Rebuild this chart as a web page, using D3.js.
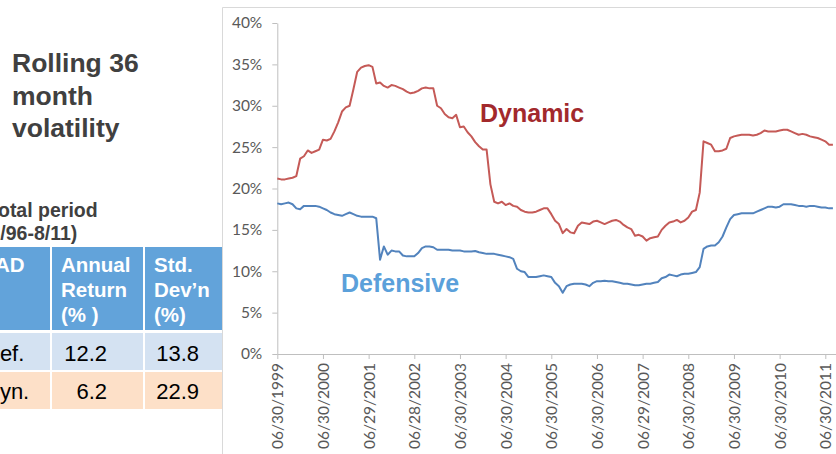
<!DOCTYPE html>
<html>
<head>
<meta charset="utf-8">
<script src="https://cdn.jsdelivr.net/npm/d3@7"></script>
<style>
  html, body { margin: 0; padding: 0; background: #ffffff; }
  svg { display: block; }
</style>
</head>
<body>
<svg id="chart" width="836" height="454"></svg>
<script>
// Rolling 36-month volatility, monthly from June 1999 to August 2011
const tickLabels = ["06/30/1999", "06/30/2000", "06/29/2001", "06/28/2002", "06/30/2003",
  "06/30/2004", "06/30/2005", "06/30/2006", "06/29/2007", "06/30/2008",
  "06/30/2009", "06/30/2010", "06/30/2011"];

const dynamic = [
  21.2, 21.1, 21.1, 21.2, 21.3, 21.5, 23.6, 23.9, 24.6, 24.3, 24.5, 24.7,
  25.9, 25.8, 26.0, 26.9, 28.0, 29.3, 29.8, 30.0, 32.0, 34.1, 34.6, 34.8,
  34.9, 34.7, 32.7, 32.8, 32.4, 32.2, 32.5, 32.4, 32.2, 32.0, 31.7, 31.5,
  31.6, 31.8, 32.1, 32.2, 32.1, 32.1, 30.0, 29.7, 29.0, 28.6, 28.5, 28.9,
  27.4, 27.5, 26.8, 26.3, 25.6, 25.1, 24.7, 24.7, 20.5, 18.4, 18.2, 18.4,
  18.0, 18.2, 17.9, 17.8, 17.4, 17.2, 17.1, 17.1, 17.2, 17.4, 17.6, 17.6,
  16.9, 16.1, 15.7, 14.6, 15.1, 14.7, 14.6, 15.5, 15.9, 15.8, 15.7, 16.0,
  16.1, 15.9, 15.7, 15.9, 16.1, 16.2, 16.0, 15.6, 15.3, 15.1, 14.3, 14.4,
  14.2, 13.7, 14.0, 14.1, 14.2, 15.0, 15.5, 15.9, 16.0, 16.2, 15.9, 16.1,
  16.5, 17.2, 17.4, 19.5, 25.7, 25.5, 25.3, 24.5, 24.5, 24.6, 24.8, 26.1,
  26.3, 26.4, 26.5, 26.5, 26.5, 26.4, 26.5, 26.7, 27.0, 26.9, 26.9, 26.9,
  27.0, 27.1, 27.1, 26.9, 26.7, 26.5, 26.6, 26.5, 26.3, 26.2, 26.1, 25.9,
  25.7, 25.3, 25.3
];

const defensive = [
  18.2, 18.1, 18.2, 18.3, 18.1, 17.6, 17.5, 17.9, 17.9, 17.9, 17.9, 17.8,
  17.6, 17.4, 17.1, 16.9, 16.8, 16.7, 16.9, 17.1, 16.9, 16.7, 16.6, 16.6,
  16.6, 16.6, 16.4, 11.4, 13.0, 12.0, 12.5, 12.4, 12.4, 11.9, 11.8, 11.8,
  11.8, 12.2, 12.8, 13.0, 13.0, 12.9, 12.6, 12.6, 12.6, 12.6, 12.5, 12.5,
  12.5, 12.4, 12.4, 12.4, 12.45, 12.3, 12.2, 12.1, 12.1, 12.1, 12.0, 11.9,
  11.8, 11.7, 11.5, 10.3, 10.0, 9.9, 9.3, 9.3, 9.3, 9.4, 9.5, 9.4,
  9.3, 8.6, 8.2, 7.4, 8.2, 8.4, 8.5, 8.5, 8.5, 8.4, 8.2, 8.6,
  8.8, 8.8, 8.85, 8.8, 8.8, 8.7, 8.6, 8.5, 8.5, 8.4, 8.3, 8.3,
  8.4, 8.5, 8.5, 8.6, 8.7, 9.15, 9.3, 9.6, 9.5, 9.4, 9.6, 9.7,
  9.7, 9.8, 9.9, 10.5, 12.7, 13.0, 13.1, 13.1, 13.5, 14.2, 15.3, 16.3,
  16.8, 16.9, 17.0, 17.0, 17.0, 17.0, 17.2, 17.4, 17.6, 17.8, 17.8, 17.7,
  17.8, 18.1, 18.1, 18.1, 18.0, 17.9, 17.9, 17.8, 17.9, 17.9, 17.8, 17.7,
  17.7, 17.6, 17.6
];

const yTicks = [0, 5, 10, 15, 20, 25, 30, 35, 40];

// Summary table for the whole period
const tableTitle = ["Total period", "(6/96-8/11)"];
const tableHeader = [["TAD"], ["Annual", "Return", "(% )"], ["Std.", "Dev\u2019n", "(%)"]];
const rowLabels = ["Def.", "Dyn."];
const annualReturn = ["12.2", "6.2"];
const stdDev = ["13.8", "22.9"];

const svg = d3.select("#chart");
const W = 836, H = 454;
svg.append("rect").attr("width", W).attr("height", H).attr("fill", "#ffffff");

const arial = "'Liberation Sans', Arial, Helvetica, sans-serif";
const axisFont = "Lato, 'Open Sans', sans-serif";

// ---- Left side text ----
const titleLines = ["Rolling 36", "month", "volatility"];
svg.append("g").selectAll("text").data(titleLines).join("text")
  .attr("x", 12).attr("y", (d, i) => 72 + i * 32.5)
  .attr("font-family", arial).attr("font-weight", "bold").attr("font-size", 26.5)
  .attr("fill", "#404040").text(d => d);

svg.append("g").selectAll("text").data(tableTitle).join("text")
  .attr("x", (d, i) => i === 0 ? -12.5 : -17)
  .attr("y", (d, i) => 217 + i * 23)
  .attr("font-family", arial).attr("font-weight", "bold").attr("font-size", 19.5)
  .attr("fill", "#404040").text(d => d);

// Table geometry
const cols = [{ x0: -25, x1: 50 }, { x0: 52, x1: 143 }, { x0: 145, x1: 222 }];
const rows = [{ y0: 247, y1: 330, fill: "#62A3DA" },
              { y0: 333, y1: 370, fill: "#D4E2F2" },
              { y0: 372, y1: 409, fill: "#FDE0C8" }];
const tbl = svg.append("g");
rows.forEach(r => {
  cols.forEach(c => {
    tbl.append("rect").attr("x", c.x0).attr("y", r.y0)
      .attr("width", c.x1 - c.x0).attr("height", r.y1 - r.y0).attr("fill", r.fill);
  });
});
tableHeader.forEach((lines, ci) => {
  tbl.append("g").selectAll("text").data(lines).join("text")
    .attr("x", ci === 0 ? -16 : cols[ci].x0 + 9)
    .attr("y", (d, i) => 272 + i * 25)
    .attr("font-family", arial).attr("font-weight", "bold").attr("font-size", 20.5)
    .attr("fill", "#ffffff").text(d => d);
});
const bodyRows = rowLabels.map((l, i) => [l, annualReturn[i], stdDev[i]]);
bodyRows.forEach((cells, ri) => {
  const baseY = ri === 0 ? 361 : 399;
  tbl.append("text").attr("x", -16).attr("y", baseY)
    .attr("font-family", arial).attr("font-size", 22).attr("fill", "#000")
    .text(cells[0]);
  tbl.append("text").attr("x", 107).attr("y", baseY).attr("text-anchor", "end")
    .attr("font-family", arial).attr("font-size", 22).attr("fill", "#000")
    .text(cells[1]);
  tbl.append("text").attr("x", 199).attr("y", baseY).attr("text-anchor", "end")
    .attr("font-family", arial).attr("font-size", 22).attr("fill", "#000")
    .text(cells[2]);
});

// ---- Chart frame ----
svg.append("path")
  .attr("d", `M${W + 2},7.5 H222.5 V${H + 2}`)
  .attr("fill", "none").attr("stroke", "#D9D9D9").attr("stroke-width", 1);

// ---- Scales ----
const step = (825.3 - 277.3) / 144;
const x = d3.scaleLinear().domain([0, 147]).range([277.3, 277.3 + 147 * step]);
const y = d3.scaleLinear().domain([0, 40]).range([354, 23]);

// Y axis
const yAxis = svg.append("g").attr("transform", `translate(${x(0)},0)`)
  .call(d3.axisLeft(y).tickValues(yTicks).tickFormat(d => d + "%").tickSize(5).tickSizeOuter(0).tickPadding(10));
yAxis.select(".domain").attr("stroke", "#BFBFBF");
yAxis.selectAll(".tick line").attr("stroke", "#BFBFBF");
yAxis.selectAll(".tick text").attr("font-family", axisFont).attr("font-size", 15.5)
  .attr("fill", "#595959");

// X axis
const xTickIdx = tickLabels.map((d, i) => i * 12);
const xAxis = svg.append("g").attr("transform", `translate(0,${y(0)})`)
  .call(d3.axisBottom(x).tickValues(xTickIdx).tickFormat((d, i) => tickLabels[i])
    .tickSize(5).tickSizeOuter(0));
xAxis.select(".domain").attr("stroke", "#BFBFBF");
xAxis.selectAll(".tick line").attr("stroke", "#BFBFBF");
xAxis.selectAll(".tick text")
  .attr("font-family", axisFont).attr("font-size", 15.5).attr("fill", "#595959")
  .attr("transform", "rotate(-90)")
  .attr("text-anchor", "end")
  .attr("x", -9).attr("y", 0).attr("dy", "0.35em");

// ---- Lines ----
const line = d3.line().x((d, i) => x(i)).y(d => y(d));
svg.append("path").datum(dynamic).attr("d", line)
  .attr("fill", "none").attr("stroke", "#C55A57").attr("stroke-width", 2)
  .attr("stroke-linejoin", "round");
svg.append("path").datum(defensive).attr("d", line)
  .attr("fill", "none").attr("stroke", "#5283BD").attr("stroke-width", 2)
  .attr("stroke-linejoin", "round");

// Series labels
svg.append("text").attr("x", 480).attr("y", 122)
  .attr("font-family", arial).attr("font-weight", "bold").attr("font-size", 25)
  .attr("fill", "#A2292C").text("Dynamic");
svg.append("text").attr("x", 341).attr("y", 292)
  .attr("font-family", arial).attr("font-weight", "bold").attr("font-size", 25)
  .attr("fill", "#5BA0DA").text("Defensive");
</script>
</body>
</html>
